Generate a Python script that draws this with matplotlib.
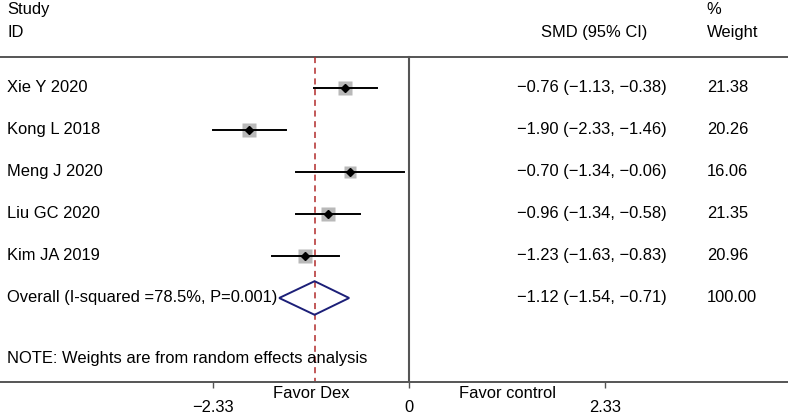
import matplotlib.pyplot as plt
from matplotlib.patches import Polygon
from matplotlib.transforms import blended_transform_factory
import numpy as np

plt.rcParams['font.family'] = ['Liberation Sans', 'DejaVu Sans']

studies = ['Xie Y 2020', 'Kong L 2018', 'Meng J 2020', 'Liu GC 2020', 'Kim JA 2019']
smd = [-0.76, -1.90, -0.70, -0.96, -1.23]
lo = [-1.13, -2.33, -1.34, -1.34, -1.63]
hi = [-0.38, -1.46, -0.06, -0.58, -0.83]
weight = [21.38, 20.26, 16.06, 21.35, 20.96]

overall_label = 'Overall (I-squared =78.5%, P=0.001)'
overall = (-1.12, -1.54, -0.71)
overall_weight = 100.00

xticks = [-2.33, 0, 2.33]
tick_labels = ['\u22122.33', '0', '2.33']
note = 'NOTE: Weights are from random effects analysis'


def fmt(v):
    return f'{v:.2f}'.replace('-', '\u2212')


fig = plt.figure(figsize=(7.88, 4.16), dpi=100)
ax = fig.add_axes([0, 34 / 416, 1, 382 / 416])

# 0 at 409px, 84.3 px per unit
ax.set_xlim(-409 / 84.3, (788 - 409) / 84.3)
ax.set_ylim(7.0, -2.095)

fs = 11.9
ink = '#555555'
top = -0.738

ax.axhline(top, color=ink, lw=1.4)
ax.plot([0, 0], [top, 7.0], color=ink, lw=1.5)
ax.plot([overall[0], overall[0]], [top, 7.0], color='#b22b2b', lw=1.1,
        ls=(0, (4, 3)))

rows = np.arange(len(studies))
for i in rows:
    ax.plot([lo[i], hi[i]], [i, i], color='black', lw=1.4, zorder=3)
    ax.plot(smd[i], i, marker='s', ms=2.9 * np.sqrt(weight[i]) * 0.72,
            color='#b9b9b9', mec='none', zorder=2)
    ax.plot(smd[i], i, marker='D', ms=4.5, color='black', zorder=4)

orow = len(studies)
est, olo, ohi = overall
h = 0.4
ax.add_patch(Polygon([(olo, orow), (est, orow - h), (ohi, orow), (est, orow + h)],
                     closed=True, fill=False, ec='#1c1f78', lw=1.4, zorder=3))

tx = blended_transform_factory(ax.transAxes, ax.transData)
ax.text(0.009, -1.88, 'Study', transform=tx, fontsize=fs, va='center')
ax.text(0.009, -1.33, 'ID', transform=tx, fontsize=fs, va='center')
ax.text(0.754, -1.33, 'SMD (95% CI)', transform=tx, fontsize=fs, va='center', ha='center')
ax.text(0.897, -1.88, '%', transform=tx, fontsize=fs, va='center')
ax.text(0.897, -1.33, 'Weight', transform=tx, fontsize=fs, va='center')

labels = studies + [overall_label]
ests = list(zip(smd, lo, hi)) + [overall]
wts = weight + [overall_weight]
for i, (lab, (e, l, u), w) in enumerate(zip(labels, ests, wts)):
    ax.text(0.009, i, lab, transform=tx, fontsize=fs, va='center')
    ax.text(0.8465, i, f'{fmt(e)} ({fmt(l)}, {fmt(u)})', transform=tx,
            fontsize=fs, va='center', ha='right')
    ax.text(0.897, i, f'{w:.2f}', transform=tx, fontsize=fs, va='center')

ax.text(0.009, 6.43, note, transform=tx, fontsize=fs, va='center')

for s in ['top', 'left', 'right']:
    ax.spines[s].set_visible(False)
ax.spines['bottom'].set_color(ink)
ax.spines['bottom'].set_linewidth(1.4)
ax.set_yticks([])
ax.set_xticks(xticks)
ax.set_xticklabels(tick_labels)
ax.tick_params(axis='x', length=4, width=1, color=ink, pad=9, labelsize=fs)

bx = blended_transform_factory(ax.transData, ax.transAxes)
ax.text(-2.33 / 2, -0.029, 'Favor Dex', transform=bx, fontsize=fs, ha='center', va='center')
ax.text(2.33 / 2, -0.029, 'Favor control', transform=bx, fontsize=fs, ha='center', va='center')

fig.savefig('out.png', dpi=100)
